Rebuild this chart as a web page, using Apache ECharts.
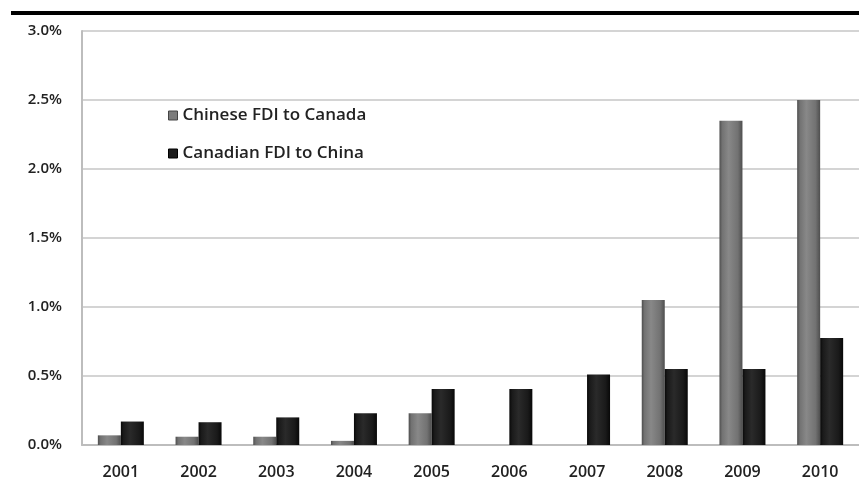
<!DOCTYPE html>
<html>
<head>
<meta charset="utf-8">
<script src="https://cdn.jsdelivr.net/npm/echarts@6/dist/echarts.min.js"></script>
<style>
  html, body { margin: 0; padding: 0; background: #fff; }
  #chart { width: 859px; height: 497px; }
</style>
</head>
<body>
<div id="chart"></div>
<script>
const years = ['2001', '2002', '2003', '2004', '2005', '2006', '2007', '2008', '2009', '2010']
const chineseToCanada = [0.07, 0.06, 0.06, 0.03, 0.23, 0, 0, 1.05, 2.35, 2.5]
const canadianToChina = [0.17, 0.165, 0.2, 0.23, 0.405, 0.405, 0.51, 0.55, 0.55, 0.775]
const yTicks = [0, 0.5, 1.0, 1.5, 2.0, 2.5, 3.0]

const chart = echarts.init(document.getElementById('chart'))

function cylinder(dark, mid, light) {
  return new echarts.graphic.LinearGradient(0, 0, 1, 0, [
    { offset: 0, color: dark },
    { offset: 0.12, color: mid },
    { offset: 0.4, color: light },
    { offset: 0.8, color: mid },
    { offset: 1, color: dark }
  ])
}

const option = {
  backgroundColor: '#fff',
  animation: false,
  textStyle: { fontFamily: 'Open Sans' },
  graphic: [{
    type: 'rect',
    left: 11, top: 11,
    shape: { width: 848, height: 4 },
    style: { fill: '#000' }
  }],
  legend: {
    orient: 'vertical',
    left: 163,
    top: 102,
    itemWidth: 9,
    itemHeight: 9,
    itemGap: 21,
    icon: 'rect',
    textStyle: { color: '#222', fontSize: 17, fontWeight: 600, fontFamily: 'Open Sans' },
    data: [
      { name: 'Chinese FDI to Canada', itemStyle: { color: '#7c7c7c', borderColor: '#444', borderWidth: 1 } },
      { name: 'Canadian FDI to China', itemStyle: { color: '#1c1c1c', borderColor: '#000', borderWidth: 1 } }
    ]
  },
  grid: { left: 82, right: -4, top: 31, bottom: 52 },
  xAxis: {
    type: 'category',
    data: years,
    axisLine: { lineStyle: { color: '#bdbdbd', width: 2 } },
    axisTick: { show: false },
    axisLabel: { color: '#222', fontSize: 16, fontWeight: 600, margin: 19 }
  },
  yAxis: {
    type: 'value',
    min: yTicks[0],
    max: yTicks[yTicks.length - 1],
    interval: 0.5,
    axisLine: { show: true, lineStyle: { color: '#bdbdbd', width: 2 } },
    axisTick: { show: false },
    axisLabel: {
      color: '#222', fontSize: 15, fontWeight: 600, margin: 20,
      formatter: v => v.toFixed(1) + '%'
    },
    splitLine: { lineStyle: { color: '#d4d4d4', width: 2 } }
  },
  series: [{
    name: 'Chinese FDI to Canada',
    type: 'bar',
    data: chineseToCanada,
    barWidth: 23,
    barGap: '0%',
    itemStyle: {
      color: cylinder('#4e4e4e', '#727272', '#888888')
    }
  }, {
    name: 'Canadian FDI to China',
    type: 'bar',
    data: canadianToChina,
    barWidth: 23,
    itemStyle: {
      color: cylinder('#080808', '#1a1a1a', '#2a2a2a')
    }
  }]
}

chart.setOption(option)
</script>
</body>
</html>
